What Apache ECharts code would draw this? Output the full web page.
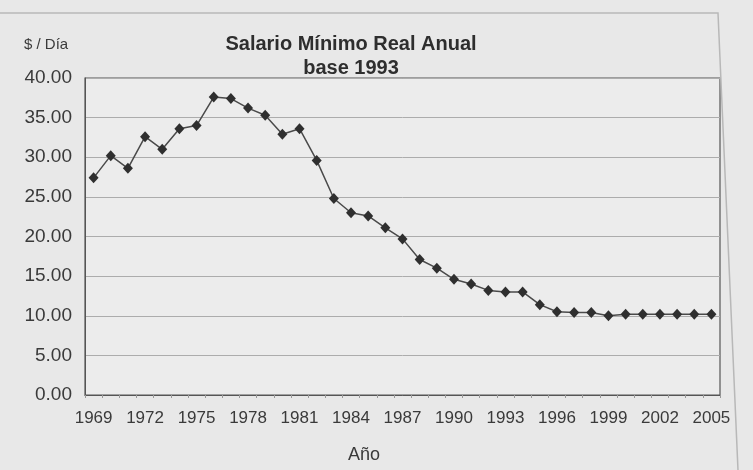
<!DOCTYPE html>
<html lang="es">

<head>
  <meta charset="utf-8" />
  <title>Salario Mínimo Real Anual</title>
  <script src="https://cdn.jsdelivr.net/npm/echarts@6/dist/echarts.min.js"></script>
  <style>
    * {
      margin: 0;
      padding: 0;
    }

    body {
      background: #e8e8e8;
    }

    #chart-container {
      position: relative;
      width: 753px;
      height: 470px;
      overflow: hidden;
    }
  </style>
</head>

<body>
  <div id="chart-container"></div>

  <script>
    // años 1969-2005
    var years = [
      "1969", "1970", "1971", "1972", "1973", "1974", "1975", "1976", "1977", "1978",
      "1979", "1980", "1981", "1982", "1983", "1984", "1985", "1986", "1987", "1988",
      "1989", "1990", "1991", "1992", "1993", "1994", "1995", "1996", "1997", "1998",
      "1999", "2000", "2001", "2002", "2003", "2004", "2005"
    ];

    // $ / día
    var salario = [
      27.4, 30.2, 28.6, 32.6, 31.0, 33.6, 34.0, 37.6, 37.4, 36.2,
      35.3, 32.9, 33.6, 29.6, 24.8, 23.0, 22.6, 21.1, 19.7, 17.1,
      16.0, 14.6, 14.0, 13.2, 13.0, 13.0, 11.4, 10.5, 10.4, 10.4,
      10.0, 10.2, 10.2, 10.2, 10.2, 10.2, 10.2
    ];

    var yTicks = { min: 0, max: 40, interval: 5 };

    var textColor = "#3a3a3a";
    var font = "Liberation Sans";

    var dom = document.getElementById("chart-container");
    var myChart = echarts.init(dom, null, { renderer: "canvas" });

    var option = {
      backgroundColor: "#e8e8e8",
      animation: false,
      title: {
        text: "Salario Mínimo Real Anual\nbase 1993",
        left: 346,
        top: 27,
        textAlign: "center",
        textStyle: {
          fontFamily: font,
          fontSize: 20,
          fontWeight: "bold",
          color: "#2e2e2e",
          lineHeight: 24
        }
      },
      graphic: [
        {
          type: "polyline",
          shape: { points: [[0, 13], [718, 13], [738, 470]] },
          style: { fill: null, stroke: "#b8b8b8", lineWidth: 1.5 }
        },
        {
          type: "text",
          left: 24,
          top: 37,
          style: { text: "$ / Día", font: "15px " + font, fill: textColor }
        },
        {
          type: "text",
          left: 348,
          top: 446,
          style: { text: "Año", font: "18px " + font, fill: textColor }
        }
      ],
      grid: {
        left: 85,
        right: 33,
        top: 78,
        bottom: 75,
        show: true,
        backgroundColor: "#ececec",
        borderColor: "#555",
        borderWidth: 1.2
      },
      xAxis: {
        type: "category",
        data: years,
        boundaryGap: true,
        axisLine: { lineStyle: { color: "#555" } },
        axisTick: { show: true, interval: 0, length: 3, lineStyle: { color: "#999" } },
        axisLabel: {
          interval: 2,
          margin: 15,
          fontFamily: font,
          fontSize: 17,
          color: textColor
        }
      },
      yAxis: {
        type: "value",
        min: yTicks.min,
        max: yTicks.max,
        interval: yTicks.interval,
        axisLine: { show: true, lineStyle: { color: "#555" } },
        axisTick: { show: false },
        splitLine: { lineStyle: { color: "#acacac", width: 1 } },
        axisLabel: {
          margin: 13,
          fontFamily: font,
          fontSize: 19,
          color: textColor,
          formatter: function (v) { return v.toFixed(2); }
        }
      },
      series: [
        {
          type: "line",
          data: salario,
          symbol: "diamond",
          symbolSize: [10, 11],
          itemStyle: { color: "#2f2f2f" },
          lineStyle: { color: "#4a4a4a", width: 1.5 }
        }
      ]
    };

    myChart.setOption(option);

    window.addEventListener("resize", myChart.resize);
  </script>
</body>

</html>
